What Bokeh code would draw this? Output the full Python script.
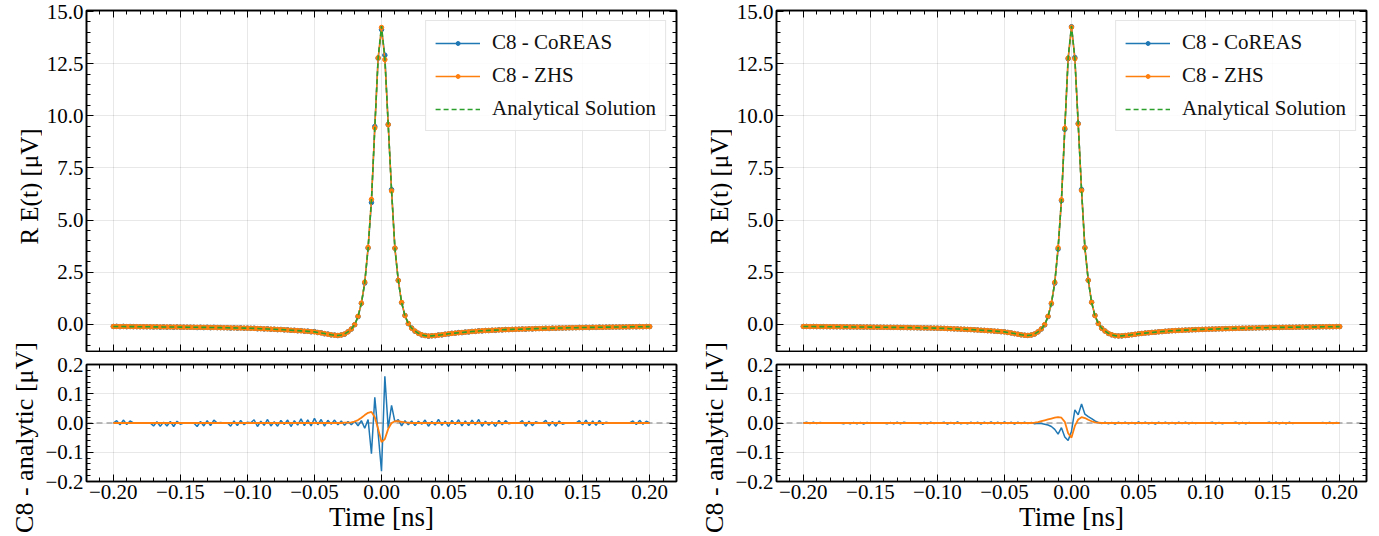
import math
import numpy as np
from bokeh.plotting import figure
from bokeh.models import (Range1d, SingleIntervalTicker, LinearAxis, CustomJSTickFormatter,
                          CustomLabelingPolicy, Span, Label, Legend, LegendItem)
from bokeh.layouts import row, column
from bokeh.embed import file_html
from bokeh.resources import INLINE

FONT = "Liberation Serif"
BLUE = "#1f77b4"
ORANGE = "#ff7f0e"
GREEN = "#2ca02c"

# sampling grid of the traces (ns), step 2.5 ps
time_ns = np.round(np.arange(161) * 0.0025 - 0.2, 4)

# analytical solution R E(t) [uV]
analytic = [
    -0.100, -0.101, -0.103, -0.104, -0.106, -0.107, -0.109, -0.110, -0.112, -0.113,
    -0.115, -0.116, -0.118, -0.119, -0.121, -0.122, -0.124, -0.125, -0.127, -0.128,
    -0.130,
    -0.132, -0.134, -0.136, -0.138, -0.140, -0.142, -0.144, -0.146, -0.149, -0.151,
    -0.154, -0.157, -0.160, -0.163, -0.166, -0.169, -0.172, -0.175, -0.178, -0.181,
    -0.187, -0.193, -0.199, -0.206, -0.213, -0.220, -0.227, -0.234, -0.242, -0.250,
    -0.259, -0.268, -0.278, -0.288, -0.299, -0.310, -0.322, -0.334, -0.347, -0.360,
    -0.385, -0.410, -0.440, -0.470, -0.500, -0.520,
    -0.530, -0.510, -0.460, -0.360, -0.220, -0.020, 0.380, 1.000, 2.000, 3.650,
    5.950, 9.400, 12.800, 14.300,
    12.750, 9.600, 6.400, 3.650, 2.100, 1.050, 0.420, 0.040, -0.180, -0.320,
    -0.430, -0.500, -0.540, -0.555, -0.550, -0.535, -0.515, -0.495, -0.473, -0.450,
    -0.434, -0.418, -0.402, -0.387, -0.372, -0.358, -0.344, -0.331, -0.318, -0.305,
    -0.297, -0.289, -0.281, -0.274, -0.267, -0.260, -0.253, -0.247, -0.241, -0.235,
    -0.230, -0.225, -0.220, -0.215, -0.210, -0.205, -0.200, -0.196, -0.192, -0.188,
    -0.184, -0.180, -0.176, -0.172, -0.168, -0.164, -0.161, -0.158, -0.154, -0.151,
    -0.148, -0.146, -0.143, -0.141, -0.138, -0.136, -0.133, -0.131, -0.128, -0.126,
    -0.124, -0.122, -0.120, -0.118, -0.116, -0.114, -0.112, -0.110, -0.108, -0.106,
]

# CoREAS - analytic, left panel
res_coreas_left = [
    0.000, 0.008, -0.006, 0.010, -0.005, 0.007,
    0.0, 0.0, 0.0, 0.0, 0.0, 0.0,
    -0.010, 0.004, -0.011, 0.003, -0.010, 0.005, -0.012, 0.006, -0.004,
    0.0, 0.0, 0.0, 0.0,
    -0.012, 0.005, -0.010, 0.008, -0.009, 0.010,
    0.000, 0.002, 0.000, 0.001,
    -0.011, 0.007, -0.009, 0.009, -0.006, 0.003,
    0.001, 0.011, -0.012, 0.006, -0.008, 0.012, -0.010, 0.004, -0.011, 0.009,
    -0.005, 0.010, -0.012, 0.008, -0.007, 0.014, -0.009, 0.011, -0.010, 0.016,
    -0.006, 0.012, -0.011, 0.009, -0.004, 0.010, -0.006, 0.007, -0.008, 0.005,
    -0.006, 0.006, -0.010, 0.008, -0.018, 0.012, -0.105, 0.088, -0.035, -0.165,
    0.160, -0.018, 0.060, 0.004, 0.012, -0.010, 0.008, -0.006, 0.007, -0.009,
    0.006, -0.004, 0.010, -0.011, 0.005, -0.007, 0.012, -0.008, 0.006, -0.012,
    0.009, -0.005, 0.011, -0.010, 0.007, -0.009, 0.010, -0.006, 0.012, -0.011,
    0.006, -0.008, 0.004, -0.012, 0.009, -0.006, 0.008, -0.003,
    0.0, 0.0, 0.0,
    0.008, -0.011, 0.006, -0.009, 0.004,
    0.0, 0.0,
    0.009, -0.010, 0.005, -0.011, 0.007, -0.004,
    0.0, 0.0, 0.0, 0.0,
    0.008, -0.006, 0.010, -0.009, 0.007, -0.008, 0.009, -0.005, 0.003,
    0.0, 0.0, 0.0, 0.0, 0.0, 0.0, 0.0,
    0.007, -0.005, 0.009, -0.004, 0.006, 0.000,
]

# ZHS - analytic, left panel
res_zhs_left = [
    0, 0, 0, 0, 0, 0, 0, 0, 0, 0,
    0, 0, 0, 0, 0, 0, 0, 0, 0, 0,
    0, 0, 0, 0, 0, 0, 0, 0, 0, 0,
    0, 0, 0, 0, 0, 0, 0, 0, 0, 0,
    0, 0, 0, 0, 0, 0, 0, 0, 0, 0,
    0, 0, 0, 0, 0, 0, 0, 0, 0, 0,
    0, 0, 0, 0, 0, 0, 0, 0, 0, 0.001,
    0.001, 0.002, 0.005, 0.010, 0.018, 0.027, 0.035, 0.038, 0.020, -0.020,
    -0.065, -0.055, -0.020, 0.000, 0.006, 0.006, 0.004, 0.002, 0.001, 0,
    0, 0, 0, 0, 0, 0, 0, 0, 0, 0,
    0, 0, 0, 0, 0, 0, 0, 0, 0, 0,
    0, 0, 0, 0, 0, 0, 0, 0, 0, 0,
    0, 0, 0, 0, 0, 0, 0, 0, 0, 0,
    0, 0, 0, 0, 0, 0, 0, 0, 0, 0,
    0, 0, 0, 0, 0, 0, 0, 0, 0, 0,
    0, 0, 0, 0, 0, 0, 0, 0, 0, 0,
    0,
]

# CoREAS - analytic, right panel
res_coreas_right = [
    0.000, 0.003, -0.002, 0.003, -0.002, 0.002,
    0.0, 0.0, 0.0, 0.0, 0.0, 0.0,
    -0.003, 0.001, -0.003, 0.002, -0.003, 0.002, -0.004, 0.002, -0.001,
    0.0, 0.0, 0.0, 0.0,
    -0.003, 0.002, -0.003, 0.003, -0.003, 0.003,
    0.0, 0.0, 0.0, 0.0,
    -0.003, 0.002, -0.003, 0.003, -0.002, 0.001,
    0.000, 0.003, -0.004, 0.002, -0.003, 0.004, -0.003, 0.001, -0.003, 0.003,
    -0.002, 0.003, -0.004, 0.003, -0.002, 0.004, -0.003, 0.003, -0.003, 0.004,
    -0.002, 0.003, -0.004, 0.003, -0.002, 0.003, -0.002, 0.002, -0.003, -0.001,
    -0.002, -0.004, -0.007, -0.012, -0.022, -0.038, -0.016, -0.048, -0.060, -0.028,
    0.045, 0.028, 0.065, 0.030, 0.022, 0.015, 0.007, 0.002, -0.002, 0.003,
    -0.003, 0.002, -0.004, 0.003, -0.002, 0.003, -0.003, 0.002, -0.003, 0.004,
    -0.002, 0.003, -0.003, 0.002, -0.004, 0.003, -0.002, 0.003, -0.003, 0.002,
    -0.003, 0.003, -0.002, 0.003, -0.003, 0.002, -0.002, 0.001,
    0.0, 0.0, 0.0,
    0.003, -0.003, 0.002, -0.003, 0.001,
    0.0, 0.0,
    0.003, -0.003, 0.002, -0.003, 0.002, -0.001,
    0.0, 0.0, 0.0, 0.0,
    0.003, -0.002, 0.003, -0.003, 0.002, -0.003, 0.003, -0.002, 0.001,
    0.0, 0.0, 0.0, 0.0, 0.0, 0.0, 0.0,
    0.002, -0.002, 0.003, -0.002, 0.002, 0.000,
]

# ZHS - analytic, right panel
res_zhs_right = [
    0, 0, 0, 0, 0, 0, 0, 0, 0, 0,
    0, 0, 0, 0, 0, 0, 0, 0, 0, 0,
    0, 0, 0, 0, 0, 0, 0, 0, 0, 0,
    0, 0, 0, 0, 0, 0, 0, 0, 0, 0,
    0, 0, 0, 0, 0, 0, 0, 0, 0, 0,
    0, 0, 0, 0, 0, 0, 0, 0, 0, 0,
    0, 0, 0, 0, 0, 0, 0, 0, 0, 0.001,
    0.003, 0.006, 0.009, 0.012, 0.015, 0.018, 0.020, 0.018, 0.004, -0.035,
    -0.050, -0.010, 0.012, 0.020, 0.017, 0.011, 0.006, 0.002, 0.001, 0,
    0, 0, 0, 0, 0, 0, 0, 0, 0, 0,
    0, 0, 0, 0, 0, 0, 0, 0, 0, 0,
    0, 0, 0, 0, 0, 0, 0, 0, 0, 0,
    0, 0, 0, 0, 0, 0, 0, 0, 0, 0,
    0, 0, 0, 0, 0, 0, 0, 0, 0, 0,
    0, 0, 0, 0, 0, 0, 0, 0, 0, 0,
    0, 0, 0, 0, 0, 0, 0, 0, 0, 0,
    0,
]

for name, arr in [("analytic", analytic), ("rcl", res_coreas_left), ("rzl", res_zhs_left),
                  ("rcr", res_coreas_right), ("rzr", res_zhs_right)]:
    assert len(arr) == len(time_ns), (name, len(arr))

legend_labels = ["C8 - CoREAS", "C8 - ZHS", "Analytical Solution"]
top_ylabel = "R E(t) [\u03bcV]"
bot_ylabel = "C8 - analytic [\u03bcV]"
xlabel = "Time [ns]"

MINUS = "\u2212"
TICK_FS = "21px"


def fmt(decimals):
    return CustomJSTickFormatter(code=(
        "const v = Math.abs(tick) < 1e-9 ? 0 : tick;"
        "return (v < 0 ? '" + MINUS + "' : '') + Math.abs(v).toFixed(" + str(decimals) + ");"))


def no_labels():
    return CustomLabelingPolicy(code=(
        "const ks = [...indices];"
        "for (const k of ks) { indices.unset(k); }"
        "return indices;"))


def style_axis(ax, ticker, formatter=None, show=True):
    ax.ticker = ticker
    if formatter is not None:
        ax.formatter = formatter
    ax.major_tick_in = 7
    ax.major_tick_out = 0
    ax.minor_tick_in = 4
    ax.minor_tick_out = 0
    ax.major_tick_line_color = "black"
    ax.minor_tick_line_color = "black"
    ax.major_tick_line_width = 1
    ax.minor_tick_line_width = 1
    ax.axis_line_color = "black"
    ax.axis_line_width = 1.5
    ax.major_label_text_font = FONT
    ax.major_label_text_color = "black"
    if show:
        ax.major_label_text_font_size = TICK_FS
        ax.major_label_standoff = 3
    else:
        ax.major_label_text_font_size = "0px"
        ax.major_label_standoff = 0
        ax.major_label_policy = no_labels()


def add_frame_axes(p, xticker, yticker):
    top = LinearAxis()
    style_axis(top, xticker, show=False)
    p.add_layout(top, "above")
    right = LinearAxis()
    style_axis(right, yticker, show=False)
    p.add_layout(right, "right")


def base_fig(width, height, yr, border_r, border_t, border_b):
    p = figure(width=width, height=height, x_range=Range1d(-0.22, 0.22), y_range=Range1d(*yr),
               output_backend="svg", toolbar_location=None,
               min_border_left=43, min_border_right=border_r,
               min_border_top=border_t, min_border_bottom=border_b)
    p.outline_line_color = "black"
    p.outline_line_width = 1.6
    p.grid.grid_line_color = "#000000"
    p.grid.grid_line_alpha = 0.09
    p.grid.grid_line_width = 1
    p.background_fill_color = "white"
    p.border_fill_color = "white"
    return p


def make_top(width, border_r, res_c, res_z):
    p = base_fig(width, 352, (-1.3, 15.05), border_r, 10, 1)
    xt = SingleIntervalTicker(interval=0.05, num_minor_ticks=5)
    yt = SingleIntervalTicker(interval=2.5, num_minor_ticks=5)
    bottom_axis = p.below[0]
    left_axis = p.left[0]
    style_axis(bottom_axis, xt, fmt(2), show=False)
    style_axis(left_axis, yt, fmt(1), show=True)
    p.xgrid.ticker = xt
    p.ygrid.ticker = yt
    add_frame_axes(p, xt, yt)

    coreas = np.array(analytic) + np.array(res_c)
    zhs = np.array(analytic) + np.array(res_z)
    r1 = p.line(time_ns, coreas, line_color=BLUE, line_width=1.5)
    r1b = p.scatter(time_ns, coreas, marker="circle", size=4.5, fill_color=BLUE, line_color=BLUE)
    r2 = p.line(time_ns, zhs, line_color=ORANGE, line_width=1.5)
    r2b = p.scatter(time_ns, zhs, marker="circle", size=4.5, fill_color=ORANGE, line_color=ORANGE)
    r3 = p.line(time_ns, analytic, line_color=GREEN, line_width=1.6, line_dash="5 3")

    legend = Legend(items=[
        LegendItem(label=legend_labels[0], renderers=[r1, r1b]),
        LegendItem(label=legend_labels[1], renderers=[r2, r2b]),
        LegendItem(label=legend_labels[2], renderers=[r3]),
    ], location="top_right")
    legend.label_text_font = FONT
    legend.label_text_font_size = "21px"
    legend.label_text_color = "#111111"
    legend.border_line_color = "#cccccc"
    legend.border_line_width = 1
    legend.background_fill_alpha = 0.85
    legend.glyph_width = 45
    legend.glyph_height = 10
    legend.label_height = 20
    legend.label_standoff = 12
    legend.spacing = 8
    legend.padding = 9
    legend.margin = 10
    p.add_layout(legend)
    return p


def make_bottom(width, border_r, res_c, res_z):
    p = base_fig(width, 184, (-0.2, 0.2), border_r, 12, 55)
    xt = SingleIntervalTicker(interval=0.05, num_minor_ticks=5)
    yt = SingleIntervalTicker(interval=0.1, num_minor_ticks=5)
    bottom_axis = p.below[0]
    left_axis = p.left[0]
    style_axis(bottom_axis, xt, fmt(2), show=True)
    style_axis(left_axis, yt, fmt(1), show=True)
    bottom_axis.axis_label = xlabel
    bottom_axis.axis_label_text_font = FONT
    bottom_axis.axis_label_text_font_size = "27px"
    bottom_axis.axis_label_text_font_style = "normal"
    bottom_axis.axis_label_text_color = "black"
    bottom_axis.axis_label_standoff = 0
    p.xgrid.ticker = xt
    p.ygrid.ticker = yt
    add_frame_axes(p, xt, yt)

    zero = Span(location=0, dimension="width", line_color="#999999", line_width=1.5,
                line_dash="6 4", line_alpha=0.9, level="underlay")
    p.add_layout(zero)
    p.line(time_ns, res_c, line_color=BLUE, line_width=1.5)
    p.line(time_ns, res_z, line_color=ORANGE, line_width=1.8)
    return p


def make_label_fig():
    p = figure(width=42, height=536, x_range=Range1d(0, 42), y_range=Range1d(0, 536),
               x_axis_type=None, y_axis_type=None, output_backend="svg",
               toolbar_location=None, min_border=0)
    p.outline_line_color = None
    p.grid.visible = False
    for x, y, txt, fs in [(29, 186, top_ylabel, "25px"), (24, 437, bot_ylabel, "26px")]:
        p.add_layout(Label(x=x, y=536 - y, text=txt, angle=math.pi / 2,
                           text_align="center", text_baseline="middle",
                           text_font=FONT, text_font_size=fs, text_color="black"))
    return p


top_l = make_top(648, 14, res_coreas_left, res_zhs_left)
bot_l = make_bottom(648, 14, res_coreas_left, res_zhs_left)
top_r = make_top(647, 13, res_coreas_right, res_zhs_right)
bot_r = make_bottom(647, 13, res_coreas_right, res_zhs_right)

layout = row(make_label_fig(), column(top_l, bot_l), make_label_fig(), column(top_r, bot_r))

open("out.html", "w").write(file_html(layout, INLINE))
